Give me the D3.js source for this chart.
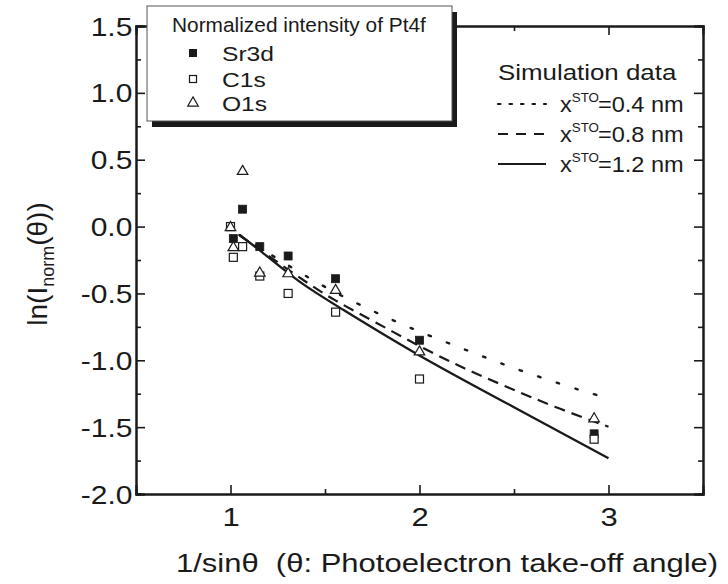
<!DOCTYPE html>
<html>
<head>
<meta charset="utf-8">
<script src="https://cdn.jsdelivr.net/npm/d3@7"></script>
<style>
  body { margin: 0; background: #fff; }
  svg { display: block; font-family: Arial, "Liberation Sans", Helvetica, sans-serif; }
  text { white-space: pre; }
</style>
</head>
<body>
<svg id="chart" width="728" height="584"></svg>
<script>
/* values */
const invSin = [1.0, 1.015, 1.064, 1.155, 1.305, 1.556, 2.0, 2.924];
const sr3d = [0.0, -0.09, 0.13, -0.15, -0.22, -0.39, -0.85, -1.55];
const c1s = [0.0, -0.23, -0.15, -0.37, -0.50, -0.64, -1.14, -1.59];
const o1s = [0.0, -0.15, 0.42, -0.34, -0.345, -0.47, -0.93, -1.43];

/* simulation curves */
const simX04 = [1.047, 1.447, 1.65, 1.853, 2.056, 2.258, 2.452, 2.655, 2.858, 3.0];
const simY04 = [-0.063, -0.417, -0.562, -0.699, -0.819, -0.929, -1.036, -1.135, -1.228, -1.285];
const simX08 = [1.047, 1.368, 1.544, 1.773, 2.003, 2.232, 2.461, 2.708, 3.0];
const simY08 = [-0.063, -0.387, -0.549, -0.719, -0.899, -1.06, -1.198, -1.347, -1.497];
const simX12 = [1.047, 1.155, 1.368, 1.556, 1.985, 2.5, 3.0];
const simY12 = [-0.063, -0.175, -0.424, -0.587, -0.961, -1.35, -1.733];

const xMajor = [1, 2, 3];
const xMinor = [1.5, 2.5];
const yMajor = [-2, -1.5, -1, -0.5, 0, 0.5, 1, 1.5];
const yMinor = [-1.75, -1.25, -0.75, -0.25, 0.25, 0.75, 1.25];

const seriesNames = ["Sr3d", "C1s", "O1s"];
const simNames = ["0.4 nm", "0.8 nm", "1.2 nm"];

const INK = "#1a1a1a";

const svg = d3.select("#chart");

let x = d3.scaleLinear().domain([0.5, 3.5]).range([136, 703]);
let y = d3.scaleLinear().domain([-2, 1.5]).range([494, 26]);

// glyphs in the figure are stretched sideways, hence the scale
function txt(parent, px, py, size, sx, anchor) {
  return parent.append("text")
    .attr("transform", `translate(${px},${py}) scale(${sx},1)`)
    .attr("font-size", size)
    .attr("text-anchor", anchor || "start")
    .attr("fill", INK);
}

/* axes, ticks pointing inward */
function styleAxis(g) {
  g.select(".domain").attr("stroke", INK).attr("stroke-width", 2);
  g.selectAll(".tick line").attr("stroke", INK).attr("stroke-width", 1.6);
  g.selectAll(".tick text").attr("fill", INK).attr("font-size", 25)
    .attr("font-family", null);
}

let bottom = svg.append("g").attr("transform", `translate(0,${y(-2)})`)
  .call(d3.axisBottom(x).tickValues(xMajor).tickSize(-9).tickPadding(14)
    .tickFormat(d => d.toString()));
styleAxis(bottom);
bottom.selectAll(".tick text").attr("transform", "scale(1.24,1)");

svg.append("g").attr("transform", `translate(0,${y(-2)})`)
  .call(d3.axisBottom(x).tickValues(xMinor).tickSize(-5).tickFormat(""))
  .call(styleAxis);

svg.append("g").attr("transform", `translate(0,${y(1.5)})`)
  .call(d3.axisTop(x).tickValues(xMajor).tickSize(-9).tickFormat(""))
  .call(styleAxis);
svg.append("g").attr("transform", `translate(0,${y(1.5)})`)
  .call(d3.axisTop(x).tickValues(xMinor).tickSize(-5).tickFormat(""))
  .call(styleAxis);

let left = svg.append("g").attr("transform", `translate(${x(0.5)},0)`)
  .call(d3.axisLeft(y).tickValues(yMajor).tickSize(-9).tickPadding(3)
    .tickFormat(d => d.toFixed(1)));
styleAxis(left);
left.selectAll(".tick text").attr("transform", "scale(1.2,1)").attr("dy", "0.36em");

svg.append("g").attr("transform", `translate(${x(0.5)},0)`)
  .call(d3.axisLeft(y).tickValues(yMinor).tickSize(-5).tickFormat(""))
  .call(styleAxis);

svg.append("g").attr("transform", `translate(${x(3.5)},0)`)
  .call(d3.axisRight(y).tickValues(yMajor).tickSize(-9).tickFormat(""))
  .call(styleAxis);
svg.append("g").attr("transform", `translate(${x(3.5)},0)`)
  .call(d3.axisRight(y).tickValues(yMinor).tickSize(-5).tickFormat(""))
  .call(styleAxis);

/* axis titles */
txt(svg, 447, 572, 25, 1.24, "middle").text("1/sin\u03b8  (\u03b8: Photoelectron take-off angle)");

let yt = svg.append("text")
  .attr("transform", "translate(47,264) rotate(-90)")
  .attr("font-size", 28).attr("text-anchor", "middle").attr("fill", INK);
yt.append("tspan").text("ln(I");
yt.append("tspan").attr("font-size", 18).attr("dy", 7).text("norm");
yt.append("tspan").attr("dy", -7).text("(\u03b8))");

/* simulation lines */
const line = d3.line().x(d => x(d[0])).y(d => y(d[1])).curve(d3.curveBasis);
const sims = [
  { xs: simX04, ys: simY04, dash: "2.5,17", w: 2.4, cap: "round" },
  { xs: simX08, ys: simY08, dash: "11,7", w: 2.2, cap: "butt" },
  { xs: simX12, ys: simY12, dash: null, w: 2.3, cap: "butt" }
];
sims.forEach(s => {
  svg.append("path")
    .datum(s.xs.map((v, i) => [v, s.ys[i]]))
    .attr("d", line)
    .attr("fill", "none")
    .attr("stroke", INK)
    .attr("stroke-width", s.w)
    .attr("stroke-linecap", s.cap)
    .attr("stroke-dasharray", s.dash);
});

/* markers */
const sq = 8;
function drawSquares(vals, filled) {
  svg.append("g").selectAll("rect")
    .data(vals)
    .enter().append("rect")
    .attr("x", (d, i) => x(invSin[i]) - sq / 2)
    .attr("y", d => y(d) - sq / 2)
    .attr("width", sq).attr("height", sq)
    .attr("fill", filled ? INK : "#fff")
    .attr("stroke", INK)
    .attr("stroke-width", filled ? 0.8 : 1.2);
}
const tri = d3.symbol().type(d3.symbolTriangle).size(48);
function drawTriangles(vals) {
  svg.append("g").selectAll("path")
    .data(vals)
    .enter().append("path")
    .attr("d", tri)
    .attr("transform", (d, i) => `translate(${x(invSin[i])},${y(d) + 1})`)
    .attr("fill", "#fff")
    .attr("stroke", INK)
    .attr("stroke-width", 1.2);
}
drawSquares(sr3d, true);
drawSquares(c1s, false);
drawTriangles(o1s);

/* legend box for measured data */
let lg = svg.append("g");
lg.append("rect").attr("x", 152).attr("y", 12).attr("width", 305).attr("height", 115)
  .attr("fill", INK);
lg.append("rect").attr("x", 147).attr("y", 6).attr("width", 305).attr("height", 115)
  .attr("fill", "#fff").attr("stroke", "#555").attr("stroke-width", 1);
txt(lg, 172, 32, 19.5, 1.07).text("Normalized intensity of Pt4f");

const rowY = [53, 79, 103];
lg.append("rect").attr("x", 193 - 4).attr("y", rowY[0] - 4).attr("width", 8).attr("height", 8)
  .attr("fill", INK);
lg.append("rect").attr("x", 193 - 3.5).attr("y", rowY[1] - 3.5).attr("width", 7).attr("height", 7)
  .attr("fill", "#fff").attr("stroke", INK).attr("stroke-width", 1.2);
lg.append("path").attr("d", tri).attr("transform", `translate(193,${rowY[2]})`)
  .attr("fill", "#fff").attr("stroke", INK).attr("stroke-width", 1.2);
seriesNames.forEach((n, i) => {
  txt(lg, 222, rowY[i] + 7.5, 20.5, 1.2).text(n);
});

/* legend for simulation */
let ls = svg.append("g");
txt(ls, 498, 80, 22.5, 1.15).text("Simulation data");
const simY = [104, 134, 164];
const simDash = ["2.5,9", "10,8", null];
simNames.forEach((n, i) => {
  ls.append("line")
    .attr("x1", 498).attr("x2", 546)
    .attr("y1", simY[i]).attr("y2", simY[i])
    .attr("stroke", INK).attr("stroke-width", 2.2)
    .attr("stroke-linecap", i === 0 ? "round" : "butt")
    .attr("stroke-dasharray", simDash[i]);
  let t = txt(ls, 560, simY[i] + 7.5, 22, 1.07);
  t.append("tspan").text("x");
  t.append("tspan").attr("font-size", 12.5).attr("dy", -10).text("STO");
  t.append("tspan").attr("dy", 10).attr("dx", -1).text("=" + n);
});
</script>
</body>
</html>
